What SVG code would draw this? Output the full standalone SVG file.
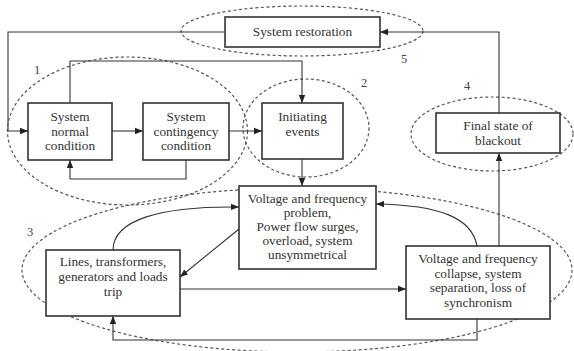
<svg xmlns="http://www.w3.org/2000/svg" width="574" height="351" viewBox="0 0 574 351">
<style>
.box{fill:#fff;stroke:#333;stroke-width:1.6}
.ell{fill:none;stroke:#555;stroke-width:1.2;stroke-dasharray:3 2.5}
.con{fill:none;stroke:#333;stroke-width:1.1}
text{font-family:"Liberation Serif","Times New Roman",serif;font-size:13.3px;fill:#333;text-anchor:middle}
.num{font-size:12.5px;fill:#444}
</style>
<defs>
<marker id="ah" viewBox="0 0 10 10" refX="10" refY="5" markerWidth="8" markerHeight="8" markerUnits="userSpaceOnUse" orient="auto">
<path d="M0,1 L10,5 L0,9 Z" fill="#222"/>
</marker>
</defs>
<rect width="574" height="351" fill="#fff"/>
<g id="ellipses">
<ellipse class="ell" cx="302" cy="31" rx="121" ry="25"/>
<ellipse class="ell" cx="127.5" cy="131" rx="120" ry="74"/>
<ellipse class="ell" cx="306" cy="128" rx="63" ry="49"/>
<ellipse class="ell" cx="492" cy="134" rx="81" ry="37"/>
<ellipse class="ell" cx="297" cy="270" rx="275" ry="82"/>
</g>
<g id="connectors">
<path class="con" d="M225,32 H8 V131 H28" marker-end="url(#ah)"/>
<path class="con" d="M112,131 H143" marker-end="url(#ah)"/>
<path class="con" d="M229,131 H262" marker-end="url(#ah)"/>
<path class="con" d="M186,160 V179 H70 V160" marker-end="url(#ah)"/>
<path class="con" d="M70,103 V61 H302 V103" marker-end="url(#ah)"/>
<path class="con" d="M302,159 V186" marker-end="url(#ah)"/>
<path class="con" d="M113,250 C113,220 160,206 239,207" marker-end="url(#ah)"/>
<path class="con" d="M239,229 L180,277" marker-end="url(#ah)"/>
<path class="con" d="M180,289 H406" marker-end="url(#ah)"/>
<path class="con" d="M477,246 C472,218 440,205 376,204" marker-end="url(#ah)"/>
<path class="con" d="M499,246 V153" marker-end="url(#ah)"/>
<path class="con" d="M499,113 V32 H380" marker-end="url(#ah)"/>
<path class="con" d="M477,319 V340 H113 V316" marker-end="url(#ah)"/>
</g>
<g id="restoration">
<rect class="box" x="225" y="17" width="155" height="30"/>
<text x="302.5" y="36">System restoration</text>
</g>
<g id="normal">
<rect class="box" x="28" y="103" width="84" height="57"/>
<text x="70" y="121">System</text>
<text x="70" y="135.5">normal</text>
<text x="70" y="150">condition</text>
</g>
<g id="contingency">
<rect class="box" x="143" y="103" width="86" height="57"/>
<text x="186" y="121">System</text>
<text x="186" y="135.5">contingency</text>
<text x="186" y="150">condition</text>
</g>
<g id="initiating">
<rect class="box" x="262" y="103" width="81" height="56"/>
<text x="302.5" y="121">Initiating</text>
<text x="302.5" y="135.5">events</text>
</g>
<g id="blackout">
<rect class="box" x="436" y="113" width="124" height="40"/>
<text x="498" y="130">Final state of</text>
<text x="498" y="144.5">blackout</text>
</g>
<g id="problem">
<rect class="box" x="239" y="186" width="137" height="83"/>
<text x="307.5" y="203">Voltage and frequency</text>
<text x="307.5" y="217">problem,</text>
<text x="307.5" y="231">Power flow surges,</text>
<text x="307.5" y="245">overload, system</text>
<text x="307.5" y="259">unsymmetrical</text>
</g>
<g id="trip">
<rect class="box" x="46" y="250" width="134" height="66"/>
<text x="113" y="266">Lines, transformers,</text>
<text x="113" y="281">generators and loads</text>
<text x="113" y="296">trip</text>
</g>
<g id="collapse">
<rect class="box" x="406" y="246" width="144" height="73"/>
<text x="478" y="263">Voltage and frequency</text>
<text x="478" y="277.5">collapse, system</text>
<text x="478" y="292">separation, loss of</text>
<text x="478" y="306.5">synchronism</text>
</g>
<g id="labels">
<text class="num" x="37" y="74">1</text>
<text class="num" x="364" y="87">2</text>
<text class="num" x="30" y="236">3</text>
<text class="num" x="467" y="90">4</text>
<text class="num" x="404" y="63">5</text>
</g>
</svg>
